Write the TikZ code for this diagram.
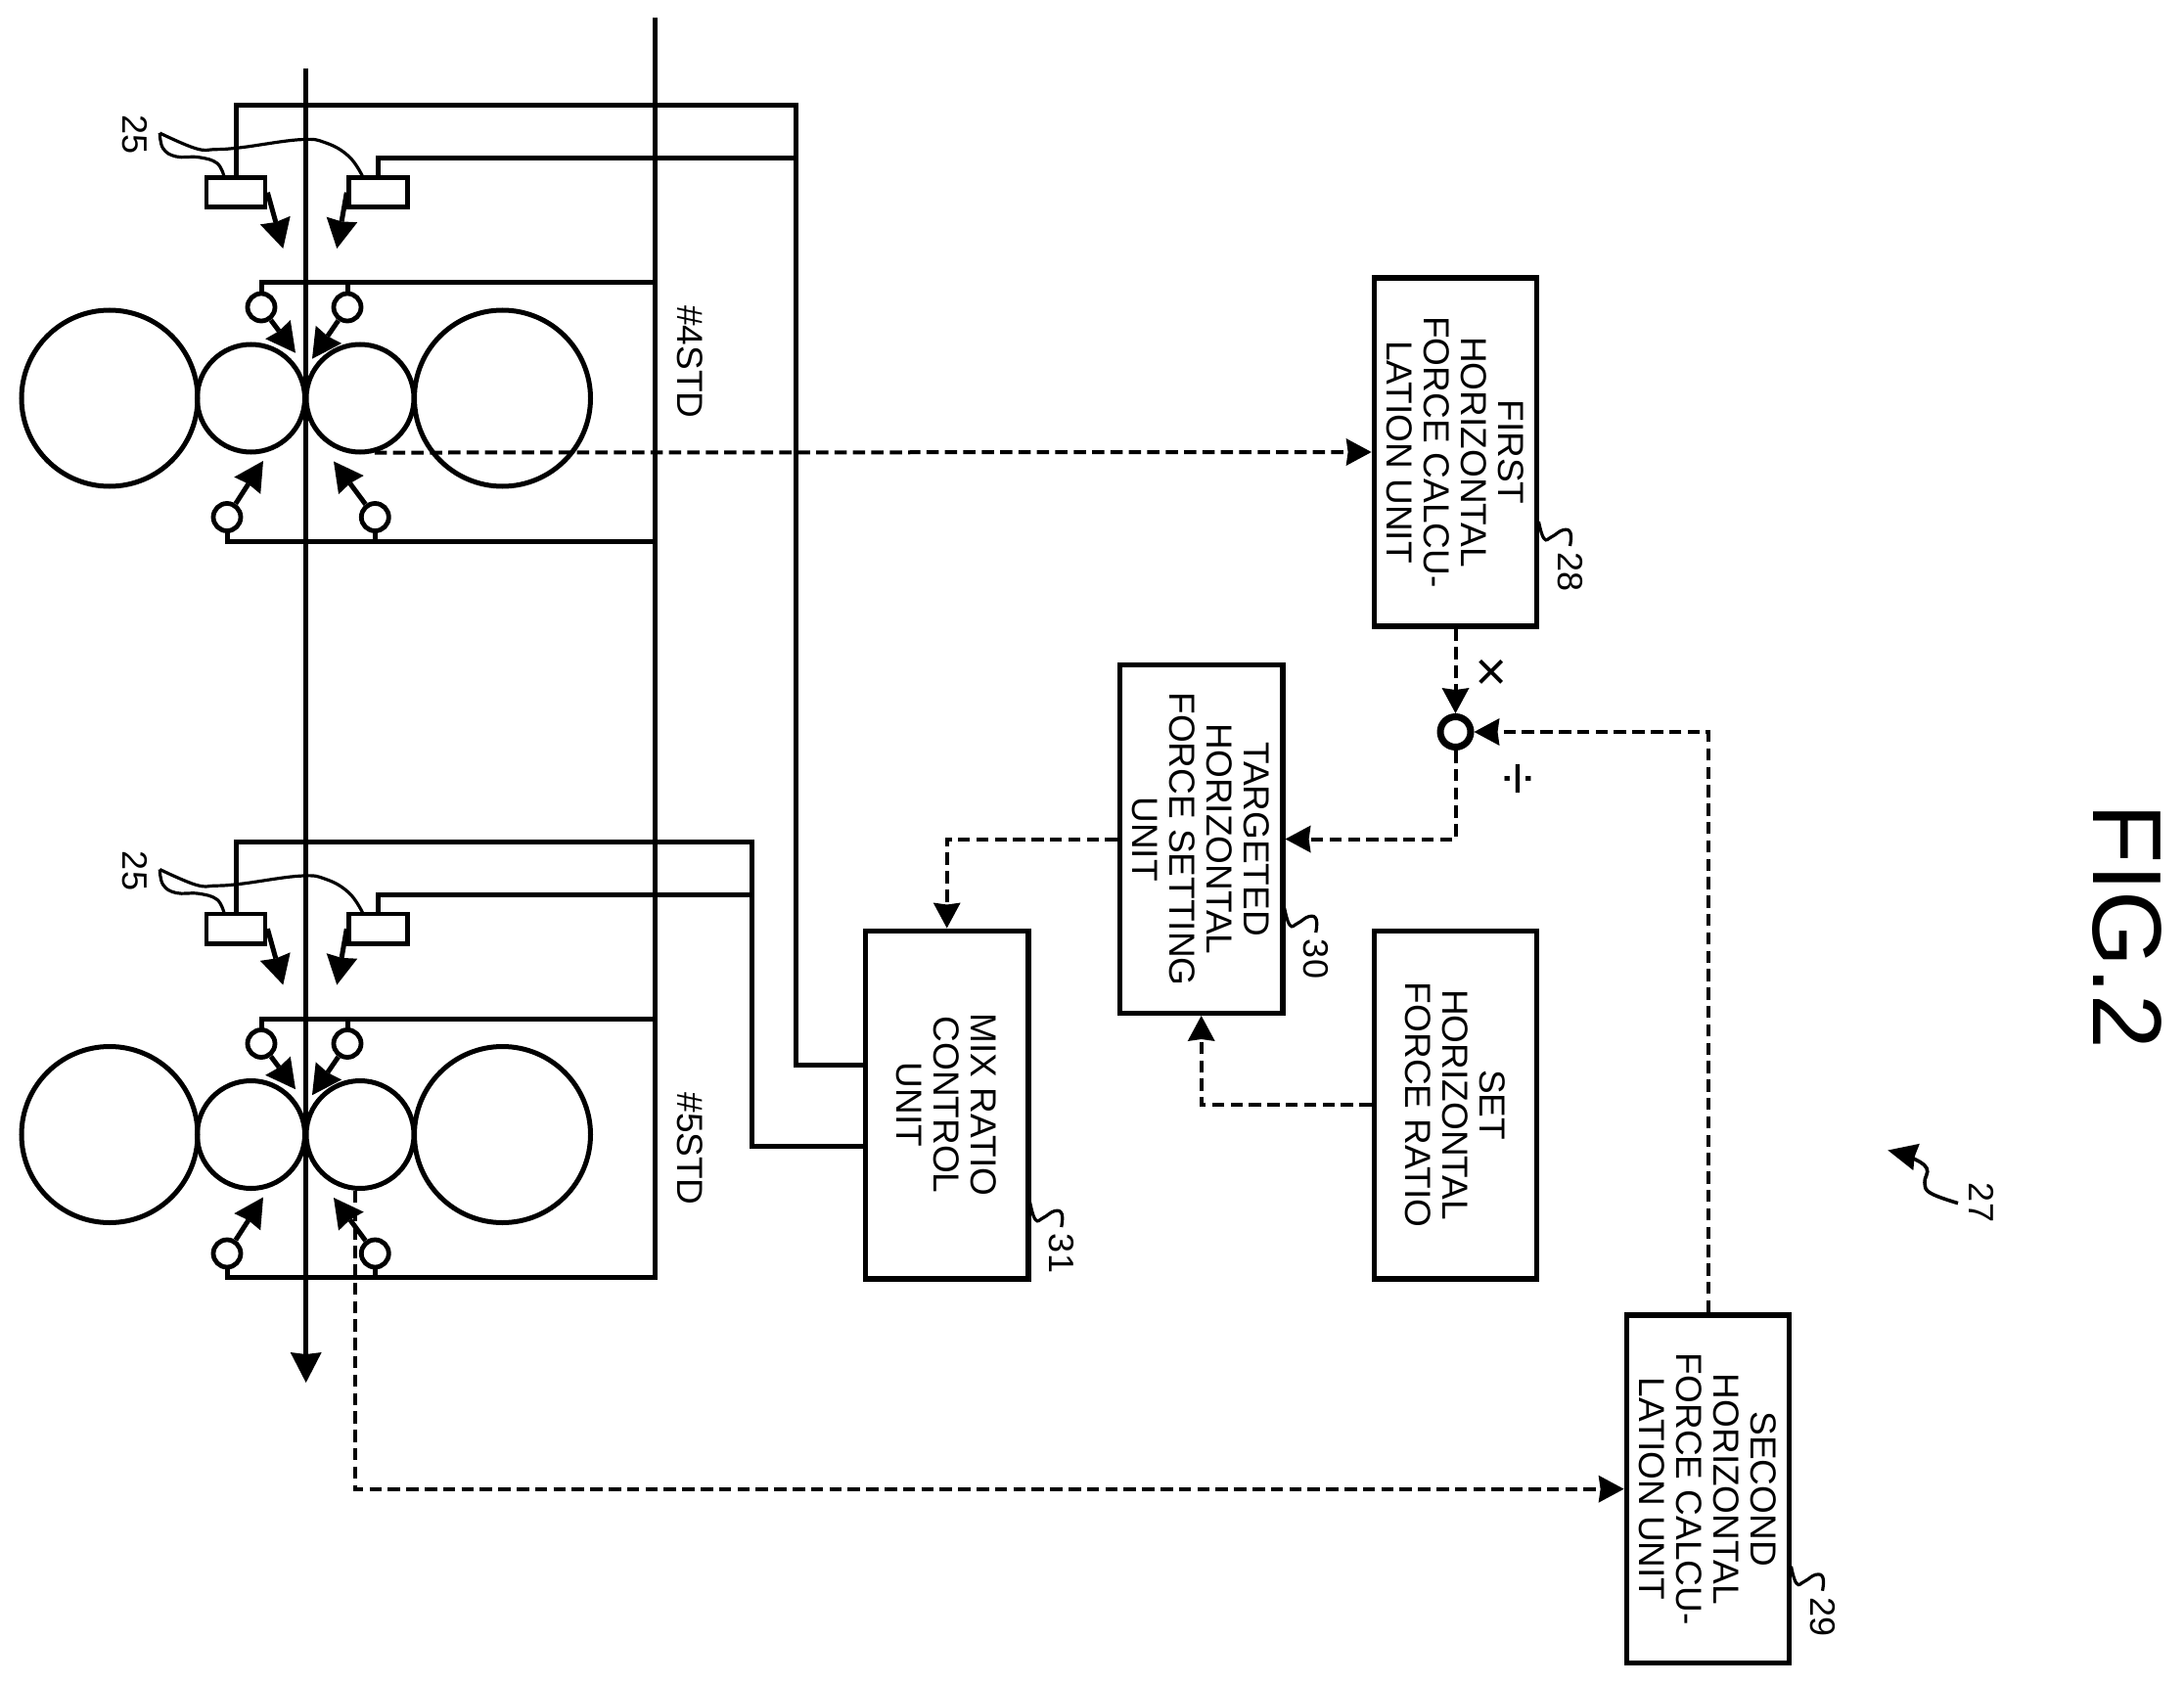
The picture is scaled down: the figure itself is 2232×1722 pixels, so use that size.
\documentclass[tikz,border=0pt]{standalone}
\usepackage{fontspec}
\setmainfont{Liberation Sans}
\usetikzlibrary{arrows.meta,calc}
\newcommand\ufont{\fontsize{18.5}{19}\selectfont}
\newcommand\numfont{\fontsize{18}{18}\selectfont}
\newcommand\unittext[1]{\rotatebox{-90}{\begin{minipage}{170pt}\centering\ufont #1\end{minipage}}}
\tikzset{
  wire/.style={line width=2.5pt,line cap=rect,line join=miter},
  unitbox/.style={draw,line width=2.7pt,minimum width=83.2pt,minimum height=177.8pt,inner sep=0pt},
  bigroll/.style={circle,draw,line width=2.5pt,minimum size=90pt,inner sep=0pt},
  smallroll/.style={circle,draw,line width=2.5pt,minimum size=55pt,inner sep=0pt},
  sensor/.style={draw,line width=2.4pt,minimum width=30pt,minimum height=15.2pt,inner sep=0pt},
  noz/.style={circle,draw,line width=2.4pt,minimum size=14pt,inner sep=0pt},
  force/.style={line width=2.5pt,-{Stealth[length=15pt,width=16pt,inset=1pt,line width=0pt]}},
  signal/.style={line width=2pt,dash pattern=on 6.25pt off 3.15pt,-{Stealth[length=13pt,width=14pt,inset=1pt,line width=0pt]}},
  leader/.style={line width=1.6pt},
  lbl/.style={rotate=-90,inner sep=0pt,font=\numfont},
}
\newcommand\tagmark[3]{%
  \begin{scope}[shift={(#1.center)}]
    \begin{scope}[shift={(0,#2)}]
      \draw[leader] plot[smooth,tension=0.8] coordinates {(85,0) (90.5,17.4) (98.5,15.5) (110,8.6) (117.5,11.7) (117,25)};
      \node[lbl] (#1tag) at (117.5,52) {#3};
    \end{scope}
  \end{scope}}
\newcommand\stand[2]{%
  \begin{scope}[shift={(0,#2)}]
    \node[bigroll] (#1bl) at (112,407) {};
    \node[bigroll] (#1br) at (513.5,407) {};
    \node[smallroll] (#1sl) at (256.5,407) {};
    \node[smallroll] (#1sr) at (368,407) {};
    \node[sensor] (#1sA) at (241,196.7) {};
    \node[sensor] (#1sB) at (386.7,196.7) {};
    \node[noz] (#1n1) at (267,314) {};
    \node[noz] (#1n2) at (355,314) {};
    \node[noz] (#1n3) at (232,528.5) {};
    \node[noz] (#1n4) at (383.3,528.5) {};
    \coordinate (#1railT) at (669.5,289);
    \coordinate (#1railB) at (669.5,553);
    \coordinate (#1t1) at (289.3,254);
    \coordinate (#1t2) at (344.3,254);
    \coordinate (#1t3) at (302,360.7);
    \coordinate (#1t4) at (319,366.7);
    \coordinate (#1t5) at (269,471);
    \coordinate (#1t6) at (341,471.5);
    \draw[force] (#1sA.east) -- (#1t1);
    \draw[force] (#1sB.west) -- (#1t2);
    \draw[force] (#1n1) -- (#1t3);
    \draw[force] (#1n2) -- (#1t4);
    \draw[force] (#1n3) -- (#1t5);
    \draw[force] (#1n4) -- (#1t6);
    \draw[wire] (#1n1.north) |- (#1railT);
    \draw[wire] (#1n2.north) -- (#1n2.north |- #1railT);
    \draw[wire] (#1n3.south) |- (#1railB);
    \draw[wire] (#1n4.south) -- (#1n4.south |- #1railB);
    \coordinate (#1lead) at (163.3,136);
    \coordinate (#1endA) at (229,180.5);
    \coordinate (#1endB) at (370.7,180.5);
    \draw[leader] plot[smooth,tension=0.7] coordinates {(#1lead) (200,151.7) (220,152.7) (246.7,150.7) (306.7,142.7) (333,146) (356.7,160) (#1endB)};
    \draw[leader] plot[smooth,tension=0.7] coordinates {(#1lead) (166.7,151.7) (180,160) (203,160.7) (221.7,166.7) (#1endA)};
    \node[lbl] (#1num) at (138,137.5) {25};
  \end{scope}}
\begin{document}
\begin{tikzpicture}[x=0.5pt,y=-0.5pt]
\fill[white] (0,0) rectangle (2232,1722);
\useasboundingbox (0,0) rectangle (2232,1722);

% function boxes
\node[unitbox] (b28) at (1487.5,462) {\unittext{FIRST\\HORIZONTAL\\FORCE CALCU-\\LATION UNIT}};
\node[unitbox] (b30) at (1227.7,857.5) {\unittext{TARGETED\\HORIZONTAL\\FORCE SETTING\\UNIT}};
\node[unitbox] (b31) at (967.7,1129) {\unittext{MIX RATIO\\CONTROL\\UNIT}};
\node[unitbox] (bset) at (1487.5,1129) {\unittext{SET\\HORIZONTAL\\FORCE RATIO}};
\node[unitbox] (b29) at (1745.5,1521.7) {\unittext{SECOND\\HORIZONTAL\\FORCE CALCU-\\LATION UNIT}};
\node[circle,draw,line width=3.5pt,minimum size=15.5pt,inner sep=0pt] (sum) at (1487.5,748) {};

% mill stands
\stand{A}{0}
\stand{B}{752.5}

% strip and bus lines
\coordinate (stripTop) at (312.7,70);
\coordinate (stripEnd) at (312.7,1413);
\draw[line width=2.6pt,-{Stealth[length=15.5pt,width=16pt,inset=1pt,line width=0pt]}] (stripTop) -- (stripEnd);
\coordinate (busTop) at (669.5,20.5);
\draw[wire] (busTop) -- (BrailB);

% sensor wiring
\coordinate (wA1) at (813.5,108);
\coordinate (wA2) at (813.5,161.7);
\coordinate (wB1) at (768.7,860.5);
\coordinate (wB2) at (768.7,914.2);
\coordinate (inA) at (b31.west |- 0,1088);
\coordinate (inB) at (b31.west |- 0,1171.6);
\draw[wire] (AsA.north) |- (wA1) |- (inA);
\draw[wire] (AsB.north) |- (wA2);
\draw[wire] (BsA.north) |- (wB1) |- (inB);
\draw[wire] (BsB.north) |- (wB2);

% signals
\draw[signal] (Asr.-75) -- (b28.west);
\draw[signal] (Bsr.-95) |- (b29.west);
\draw[signal] (b28.south) -- (sum.north);
\draw[signal] (b29.north) |- (sum.east);
\draw[signal] (sum.south) |- (b30.east);
\draw[signal] (b30.west) -| (b31.north);
\draw[signal] (bset.west) -| (b30.south);

% reference marks
\tagmark{b28}{71}{28}
\tagmark{b30}{70.5}{30}
\tagmark{b31}{100}{31}
\tagmark{b29}{79}{29}

\coordinate (t27a) at (2001,1229.6);
\coordinate (t27b) at (1929.4,1175.5);
\draw[line width=1.8pt,-{Stealth[length=15pt,width=14pt,inset=1pt,line width=0pt]}] plot[smooth,tension=0.7] coordinates {(t27a) (1973,1219.3) (1967,1208.4) (1969,1193.8) (1952.8,1182.8) (t27b)};
\node[lbl] (n27) at (2025,1229) {27};

\node[rotate=-90,inner sep=0pt,font=\ufont] (std4) at (705,370) {\#4STD};
\node[rotate=-90,inner sep=0pt,font=\ufont] (std5) at (705,1174) {\#5STD};
\node[rotate=-90,inner sep=0pt,font=\fontsize{28}{28}\selectfont] (mul) at (1521,687) {×};
\node[rotate=-90,inner sep=0pt,font=\fontsize{30}{30}\selectfont] (dvd) at (1548,796) {÷};
\node[rotate=-90,inner sep=0pt,font=\fontsize{50}{50}\selectfont] (fig) at (2173.5,947) {FIG.2};
\end{tikzpicture}
\end{document}
